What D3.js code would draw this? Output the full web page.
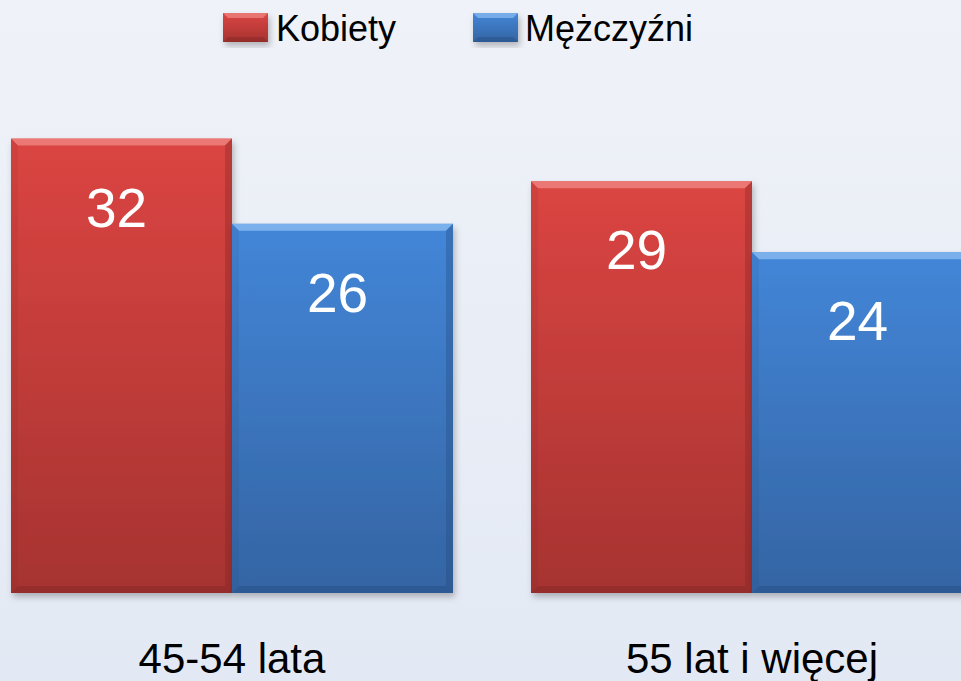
<!DOCTYPE html>
<html>
<head>
<meta charset="utf-8">
<script src="https://cdn.jsdelivr.net/npm/d3@7"></script>
<style>
  html, body { margin: 0; padding: 0; background: #eaeff7; }
  svg { display: block; }
</style>
</head>
<body>
<svg id="chart"></svg>
<script>
// data
const categories = ["45-54 lata", "55 lat i więcej"];
const seriesNames = ["Kobiety", "Mężczyźni"];
const kobiety = [32, 29];
const mezczyzni = [26, 24];

const width = 961, height = 681;
const colors = {
  Kobiety: { top: "#db4542", bottom: "#a63331", light: "#f08a86", dark: "#7e2624" },
  "Mężczyźni": { top: "#4386d8", bottom: "#3464a3", light: "#8dbdf2", dark: "#244a7c" }
};

const svg = d3.select("#chart")
  .attr("width", width)
  .attr("height", height)
  .style("font-family", "Arial, 'Liberation Sans', sans-serif");

const defs = svg.append("defs");

// background gradient
const bg = defs.append("linearGradient").attr("id", "bg")
  .attr("x1", 0).attr("y1", 0).attr("x2", 0).attr("y2", 1);
bg.append("stop").attr("offset", "0%").attr("stop-color", "#eff2f8");
bg.append("stop").attr("offset", "100%").attr("stop-color", "#e3e9f4");

svg.append("rect").attr("width", width).attr("height", height).attr("fill", "url(#bg)");

// bar gradients
Object.entries(colors).forEach(([k, c], i) => {
  const g = defs.append("linearGradient").attr("id", "grad" + i)
    .attr("x1", 0).attr("y1", 0).attr("x2", 0).attr("y2", 1);
  g.append("stop").attr("offset", "0%").attr("stop-color", c.top);
  g.append("stop").attr("offset", "100%").attr("stop-color", c.bottom);
});

const shadow = defs.append("filter").attr("id", "shadow")
  .attr("x", "-10%").attr("y", "-10%").attr("width", "130%").attr("height", "130%");
shadow.append("feDropShadow").attr("dx", 2).attr("dy", 4).attr("stdDeviation", 3)
  .attr("flood-color", "#000").attr("flood-opacity", 0.25);

// scales
const x0 = d3.scaleBand().domain(categories).range([-28, 1012]).paddingInner(0.15).paddingOuter(0.075);
const x1 = d3.scaleBand().domain(seriesNames).range([0, x0.bandwidth()]);
const y = d3.scaleLinear().domain([0, 35]).range([593, 593 - 35 * 14.2]);

const rows = categories.map((c, i) => ({
  cat: c,
  vals: [
    { name: "Kobiety", value: kobiety[i], idx: 0 },
    { name: "Mężczyźni", value: mezczyzni[i], idx: 1 }
  ]
}));

const bevel = 7;

const groups = svg.append("g").selectAll("g")
  .data(rows).join("g")
  .attr("transform", d => `translate(${x0(d.cat)},0)`);

const bars = groups.selectAll("g.bar")
  .data(d => d.vals).join("g").attr("class", "bar");

bars.each(function (d) {
  const g = d3.select(this);
  const bx = x1(d.name), bw = x1.bandwidth();
  const by = y(d.value), bh = y(0) - y(d.value);
  const c = colors[d.name];
  g.append("rect")
    .attr("x", bx).attr("y", by).attr("width", bw).attr("height", bh)
    .attr("fill", `url(#grad${d.idx})`)
    .attr("filter", "url(#shadow)");
  // bevel top
  g.append("polygon")
    .attr("points", [[bx, by], [bx + bw, by], [bx + bw - bevel, by + bevel], [bx + bevel, by + bevel]].join(" "))
    .attr("fill", c.light).attr("opacity", 0.75);
  // bevel right & bottom
  g.append("polygon")
    .attr("points", [[bx + bw, by], [bx + bw, by + bh], [bx + bw - bevel, by + bh - bevel], [bx + bw - bevel, by + bevel]].join(" "))
    .attr("fill", c.dark).attr("opacity", 0.35);
  g.append("polygon")
    .attr("points", [[bx, by + bh], [bx + bw, by + bh], [bx + bw - bevel, by + bh - bevel], [bx + bevel, by + bh - bevel]].join(" "))
    .attr("fill", c.dark).attr("opacity", 0.4);
  g.append("polygon")
    .attr("points", [[bx, by], [bx + bevel, by + bevel], [bx + bevel, by + bh - bevel], [bx, by + bh]].join(" "))
    .attr("fill", c.dark).attr("opacity", 0.12);
  // value label
  g.append("text")
    .attr("x", bx + bw / 2 - 5).attr("y", by + 88)
    .attr("text-anchor", "middle")
    .attr("fill", "#fff")
    .attr("font-size", 55)
    .text(d.value);
});

// category labels
svg.append("g").selectAll("text")
  .data(categories).join("text")
  .attr("x", d => x0(d) + x0.bandwidth() / 2)
  .attr("y", 673)
  .attr("text-anchor", "middle")
  .attr("font-size", 42)
  .attr("fill", "#000")
  .text(d => d);

// legend
const legendX = [223, 473];
const legend = svg.append("g").selectAll("g")
  .data(seriesNames).join("g")
  .attr("transform", (d, i) => `translate(${legendX[i]},13)`);
legend.append("rect")
  .attr("width", 45).attr("height", 29)
  .attr("fill", (d, i) => `url(#grad${i})`)
  .attr("filter", "url(#shadow)");
legend.append("polygon")
  .attr("points", "0,0 45,0 40,5 5,5")
  .attr("fill", d => colors[d].light).attr("opacity", 0.7);
legend.append("polygon")
  .attr("points", "0,29 45,29 40,24 5,24")
  .attr("fill", d => colors[d].dark).attr("opacity", 0.4);
legend.append("text")
  .attr("x", (d, i) => i === 0 ? 53 : 52)
  .attr("y", 28)
  .attr("font-size", 36)
  .attr("fill", "#000")
  .text(d => d);
</script>
</body>
</html>
